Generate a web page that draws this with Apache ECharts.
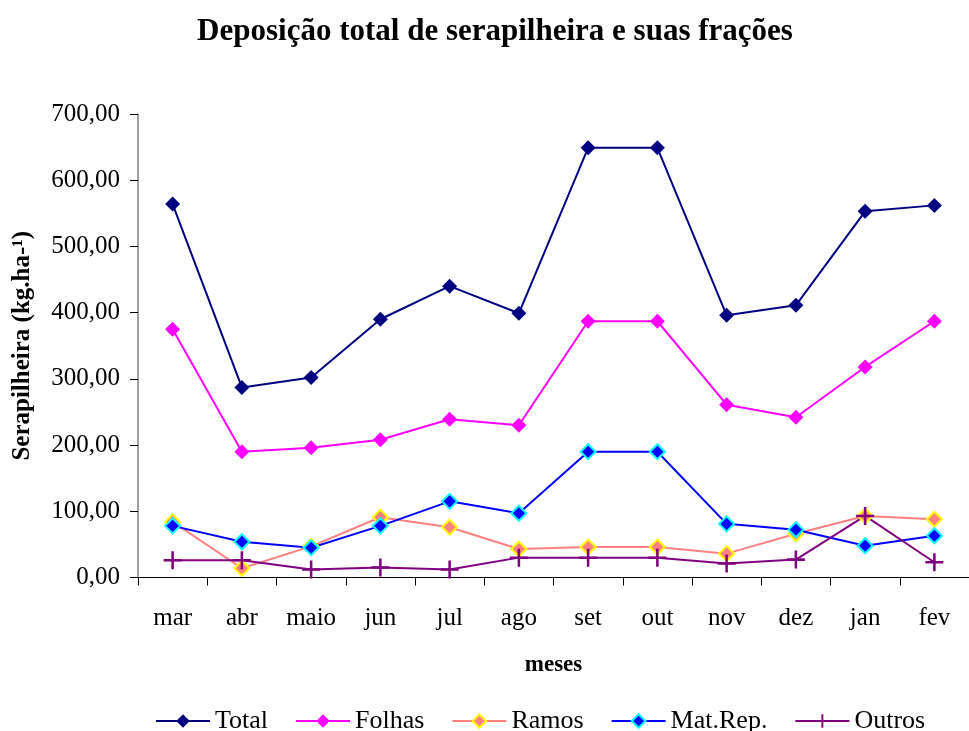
<!DOCTYPE html>
<html>
<head>
<meta charset="utf-8">
<title>Deposição total de serapilheira</title>
<script src="https://cdn.jsdelivr.net/npm/echarts@6/dist/echarts.min.js"></script>
<style>
  html, body { margin: 0; padding: 0; background: #fff; }
  #chart { width: 969px; height: 731px; }
</style>
</head>
<body>
<div id="chart"></div>
<script>
// meses e valores (kg/ha)
const meses = ['mar', 'abr', 'maio', 'jun', 'jul', 'ago', 'set', 'out', 'nov', 'dez', 'jan', 'fev'];
const total = [564, 287, 302, 390, 440, 399, 649, 649, 396, 411, 553, 562];
const folhas = [375, 190, 196, 208, 239, 230, 387, 387, 261, 242, 318, 387];
const ramos = [84, 14, 47, 91, 76, 43, 46, 46, 36, 66, 93, 88];
const matRep = [78, 54, 45, 78, 115, 97, 190, 190, 81, 72, 48, 63];
const outros = [26, 26, 12, 15, 12, 30, 30, 30, 21, 27, 93, 23];
const yTicks = [0, 100, 200, 300, 400, 500, 600, 700];

const serif = 'Liberation Serif';
const plus = 'path://M0,4.3H10V5.7H0ZM4.3,0H5.7V10H4.3Z';

let myChart = echarts.init(document.getElementById('chart'));

function linha(name, data, lineColor, fill, border, symbol, size) {
    return {
        name: name,
        type: 'line',
        data: data,
        symbol: symbol,
        symbolSize: size,
        lineStyle: { color: lineColor, width: 2 },
        itemStyle: { color: fill, borderColor: border, borderWidth: border === fill ? 0 : 2 },
        emphasis: { disabled: true },
        animation: false
    };
}

let option = {
    backgroundColor: '#fff',
    title: {
        text: 'Deposição total de serapilheira e suas frações',
        left: 490,
        textAlign: 'center',
        top: 11,
        textStyle: { fontFamily: serif, fontWeight: 'bold', fontSize: 31, color: '#000' }
    },
    legend: {
        left: 150,
        top: 703,
        itemWidth: 54,
        itemHeight: 17,
        itemGap: 27,
        textStyle: { fontFamily: serif, fontSize: 26, color: '#000' },
        data: ['Total', 'Folhas', 'Ramos', 'Mat.Rep.', 'Outros']
    },
    grid: { left: 138, top: 114, width: 840, height: 463.5, containLabel: false },
    xAxis: {
        type: 'category',
        data: meses,
        boundaryGap: true,
        name: 'meses',
        nameLocation: 'middle',
        nameGap: 76,
        nameTextStyle: { fontFamily: serif, fontWeight: 'bold', fontSize: 23, color: '#000' },
        axisLine: { lineStyle: { color: '#000', width: 1 } },
        axisTick: { show: true, length: 8, lineStyle: { color: '#000' } },
        axisLabel: { fontFamily: serif, fontSize: 25, color: '#000', margin: 28 }
    },
    yAxis: {
        type: 'value',
        min: yTicks[0],
        max: yTicks[yTicks.length - 1],
        interval: 100,
        name: 'Serapilheira (kg.ha-¹)',
        nameLocation: 'middle',
        nameGap: 103,
        nameTextStyle: { fontFamily: serif, fontWeight: 'bold', fontSize: 25, color: '#000' },
        splitLine: { show: false },
        axisLine: { show: true, lineStyle: { color: '#808080', width: 1.5 } },
        axisTick: { show: true, length: 8, lineStyle: { color: '#000' } },
        axisLabel: {
            fontFamily: serif, fontSize: 25, color: '#000', margin: 18,
            formatter: v => v.toFixed(2).replace('.', ',')
        }
    },
    series: [
        linha('Total', total, '#000080', '#000080', '#000080', 'diamond', 15),
        linha('Folhas', folhas, '#FF00FF', '#FF00FF', '#FF00FF', 'diamond', 15),
        linha('Ramos', ramos, '#FF8080', '#FF8080', '#FFFF00', 'diamond', 15),
        linha('Mat.Rep.', matRep, '#0000FF', '#0000FF', '#00FFFF', 'diamond', 15),
        linha('Outros', outros, '#800080', '#800080', '#800080', plus, 18)
    ]
};
myChart.setOption(option);
</script>
</body>
</html>
